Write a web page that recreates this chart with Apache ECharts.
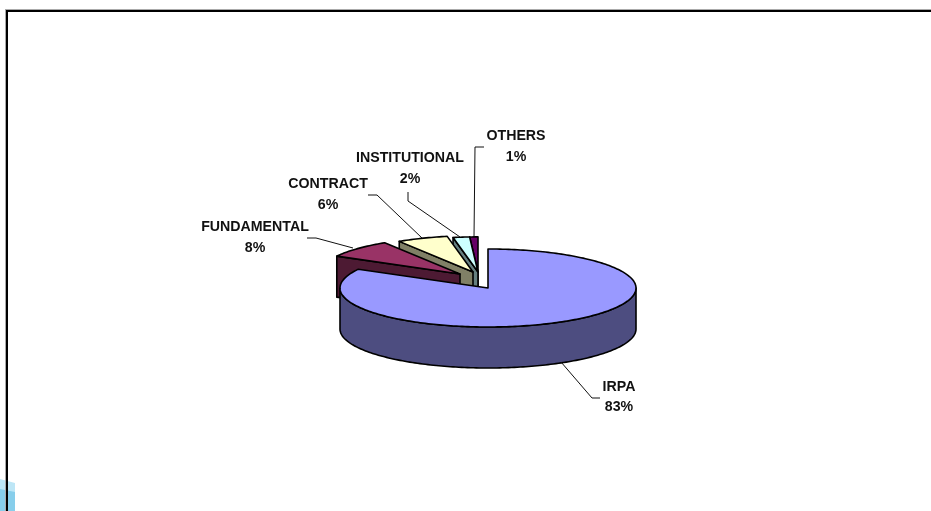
<!DOCTYPE html>
<html><head><meta charset="utf-8">
<style>html,body{margin:0;padding:0;background:#fff}#c{width:931px;height:511px}</style>
<script src="https://cdn.jsdelivr.net/npm/echarts@6/dist/echarts.min.js"></script>
</head><body><div id="c"></div>
<script>
// Data
const categories = ['IRPA','FUNDAMENTAL','CONTRACT','INSTITUTIONAL','OTHERS'];
const shares = [83,8,6,2,1];
const percentLabels = ['83%','8%','6%','2%','1%'];
const topColors = ['#9999FF','#993366','#FFFFCC','#CCFFFF','#660066'];
const wallColors = ['#4D4D80','#4D1A33','#808066','#668080','#330033'];

// Layout (pixel geometry of the 3D pie, separate from the data)
const CX=488, CY=288, RX=148, RY=39, DEPTH=41;
const offsets = [[0,0],[-28,-14],[-15,-16],[-10,-16],[-10,-16]];
const radiusScale = [1,0.95,0.93,0.9,0.9];
const labelAnchors = [[619,387],[255,227.5],[328,184.5],[410,158.5],[516,136.5]];
const leaders = [
  [[561,362],[592,398],[600,398]],
  [[307,238],[316,238],[353,248]],
  [[368,195],[377,195],[422,238]],
  [[408,192],[408,201],[460,237]],
  [[484,147],[475,147],[474,237]]
];
const drawOrder = [4,3,2,1,0];
const total = shares.reduce((a,b)=>a+b,0);
const starts = []; let acc=0;
shares.forEach(v=>{starts.push(acc/total*2*Math.PI); acc+=v;});

function renderSlice(params, api){
  const i = api.value(0);
  const a0 = starts[i], a1 = a0 + api.value(1)/total*2*Math.PI;
  const ax = CX+offsets[i][0], ay = CY+offsets[i][1], k = radiusScale[i];
  const pt = (a,dz)=>[ax+RX*k*Math.sin(a), ay-RY*k*Math.cos(a)+(dz||0)];
  const arc = (s,e,dz)=>{const n=Math.max(4,Math.ceil(Math.abs(e-s)/0.02)),o=[];for(let j=0;j<=n;j++)o.push(pt(s+(e-s)*j/n,dz));return o;};
  const line = {stroke:'#000',lineWidth:1.6,lineJoin:'round'};
  const children = [];
  if(i===0){
    const wall = arc(Math.PI/2,1.5*Math.PI,0).concat(arc(Math.PI/2,1.5*Math.PI,DEPTH).reverse());
    children.push({type:'polygon',shape:{points:wall},style:Object.assign({fill:wallColors[i]},line)});
  } else {
    const p=pt(a0,0);
    children.push({type:'polygon',shape:{points:[p,[ax,ay],[ax,ay+DEPTH],[p[0],p[1]+DEPTH]]},style:Object.assign({fill:wallColors[i]},line)});
  }
  const top=[[ax,ay]].concat(arc(a0,a1,0));
  children.push({type:'polygon',shape:{points:top},style:Object.assign({fill:topColors[i]},line)});
  return {type:'group',children};
}
function renderLabel(params, api){
  const i = api.value(0);
  const [x,y]=labelAnchors[i];
  const font='bold 14.2px "Liberation Sans", Arial, sans-serif';
  return {type:'group',children:[
    {type:'polyline',shape:{points:leaders[i]},style:{stroke:'#111',lineWidth:1,fill:null}},
    {type:'text',style:{x,y,text:categories[i],font,fill:'#111',align:'center',verticalAlign:'middle'}},
    {type:'text',style:{x,y:y+20.5,text:percentLabels[i],font,fill:'#111',align:'center',verticalAlign:'middle'}}
  ]};
}
const sliceData = drawOrder.map(i=>[i,shares[i]]);
const labelData = categories.map((c,i)=>[i,shares[i]]);
const chart = echarts.init(document.getElementById('c'),null,{renderer:'canvas'});
chart.setOption({
  animation:false,
  backgroundColor:'#fff',
  graphic:[
    {type:'polygon',z:1,shape:{points:[[0,479],[15,483],[15,511],[0,511]]},style:{fill:'#BDE6F6'}},
    {type:'polygon',z:1,shape:{points:[[0,489],[15,492],[15,511],[0,511]]},style:{fill:'#87CEEB'}},
    {type:'rect',z:2,shape:{x:5,y:9,width:926,height:1},style:{fill:'#AAAAAA'}},
    {type:'rect',z:2,shape:{x:5,y:9,width:1,height:502},style:{fill:'#AAAAAA'}},
    {type:'rect',z:3,shape:{x:6,y:10,width:925,height:2},style:{fill:'#000'}},
    {type:'rect',z:3,shape:{x:6,y:10,width:2,height:501},style:{fill:'#000'}}
  ],
  series:[
    {type:'custom',coordinateSystem:'none',silent:true,clip:false,z:5,renderItem:renderSlice,data:sliceData},
    {type:'custom',coordinateSystem:'none',silent:true,clip:false,z:6,renderItem:renderLabel,data:labelData}
  ]
});
</script></body></html>
